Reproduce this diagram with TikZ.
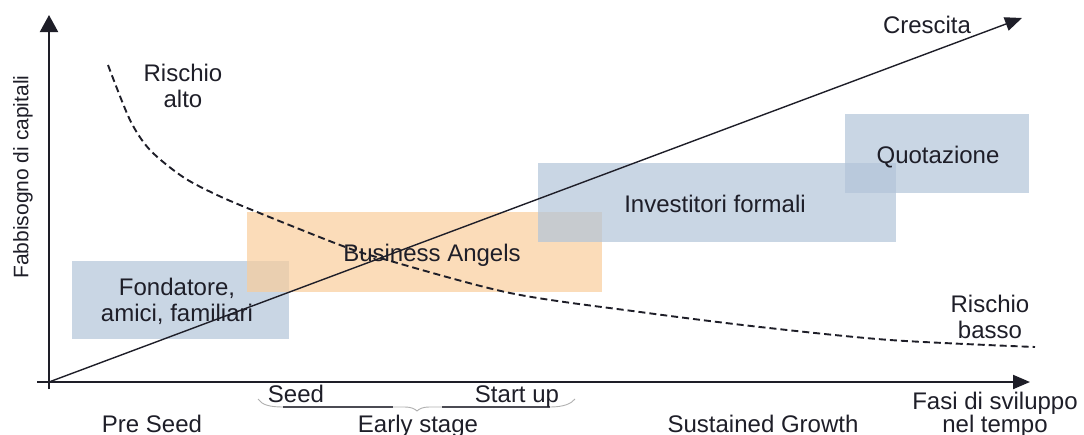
\documentclass[tikz,border=0pt]{standalone}
\usepackage{fontspec}
\setmainfont{Liberation Sans}
\usetikzlibrary{arrows.meta}
\definecolor{ink}{RGB}{30,30,40}
\definecolor{bandblue}{RGB}{178,196,216}
\definecolor{bandorange}{RGB}{249,205,155}
\definecolor{bracegrey}{RGB}{175,175,175}
\begin{document}
\begin{tikzpicture}[x=1pt,y=-1pt,
  txt/.style={font=\fontsize{24}{26}\selectfont, text=ink, align=center, inner sep=0pt},
  band/.style={draw=none, inner sep=0pt, anchor=north west, fill opacity=0.7},
  axisline/.style={draw=ink, line width=2pt},
  growth/.style={draw=ink, line width=1.4pt, -{Triangle[length=17pt,width=14pt]}},
  risk/.style={draw=ink, line width=1.9pt, dash pattern=on 7pt off 4pt},
  bracepath/.style={draw=bracegrey, line width=0.9pt},
  braceline/.style={draw=ink!80, line width=1.4pt},
]
\useasboundingbox (0,0) rectangle (1084,434);

% funding bands
\node[band, fill=bandblue, minimum width=217pt, minimum height=78pt] (fond) at (72,261) {};
\node[band, fill=bandorange, minimum width=355pt, minimum height=80pt] (ba) at (247,212) {};
\node[band, fill=bandblue, minimum width=358pt, minimum height=79pt] (inv) at (538,163) {};
\node[band, fill=bandblue, minimum width=184pt, minimum height=79pt] (quot) at (845,114) {};

% axes and growth line
\coordinate (O) at (49,382);
\coordinate (ybot) at (49,389);
\coordinate (ytop) at (49,15);
\coordinate (xbeg) at (37,382);
\coordinate (xend) at (1030,382);
\coordinate (gend) at (1022,18);
\draw[axisline, -{Triangle[length=17pt,width=18pt]}] (ybot) -- (ytop);
\draw[axisline, -{Triangle[length=17pt,width=14pt]}] (xbeg) -- (xend);
\draw[growth] (O) -- (gend);

% risk curve
\draw[risk] plot[smooth] coordinates {(108,65) (130,120) (150,150) (183,177) (217,195) (257,212) (340,245) (380,258) (510,293) (640,312) (760,327) (890,340) (1035,347)};

% brace under Seed / Start up
\coordinate (bl) at (258,399);
\coordinate (br) at (575,399);
\coordinate (bm) at (417,411);
\draw[bracepath] (bl) .. controls (262,405) and (270,407) .. (283,407) -- (404,407)
  .. controls (412,407) and (415,409) .. (bm)
  .. controls (419,409) and (422,407) .. (430,407) -- (550,407)
  .. controls (563,407) and (571,404) .. (br);
\coordinate (s1) at (283,407);
\coordinate (s2) at (393,407);
\coordinate (s3) at (442,407);
\coordinate (s4) at (550,407);
\draw[braceline] (s1) -- (s2);
\draw[braceline] (s3) -- (s4);

% labels
\node[txt, anchor=base] (crescita) at (927,33) {Crescita};
\node[txt, anchor=base] (quotlbl) at (938,163) {Quotazione};
\node[txt, anchor=base] (invlbl) at (715,212) {Investitori formali};
\node[txt, anchor=base] (balbl) at (432,261) {Business Angels};
\node[txt, anchor=north] (fondlbl) at (177,278) {Fondatore,\\amici, familiari};
\node[txt, anchor=north] (alto) at (183,64) {Rischio\\alto};
\node[txt, anchor=north] (basso) at (990,295) {Rischio\\basso};
\node[txt, anchor=north] (fasi) at (995,392) {Fasi di sviluppo\\[-3pt]nel tempo};
\node[txt, anchor=base] (preseed) at (152,432) {Pre Seed};
\node[txt, anchor=base] (early) at (418,432) {Early stage};
\node[txt, anchor=base] (sustained) at (763,432) {Sustained Growth};
\node[txt, anchor=base] (seed) at (296,402) {Seed};
\node[txt, anchor=base] (startup) at (517,402) {Start up};
\node[txt, font=\fontsize{21}{24}\selectfont, rotate=90] (ylabel) at (23,177) {Fabbisogno di capitali};
\end{tikzpicture}
\end{document}
